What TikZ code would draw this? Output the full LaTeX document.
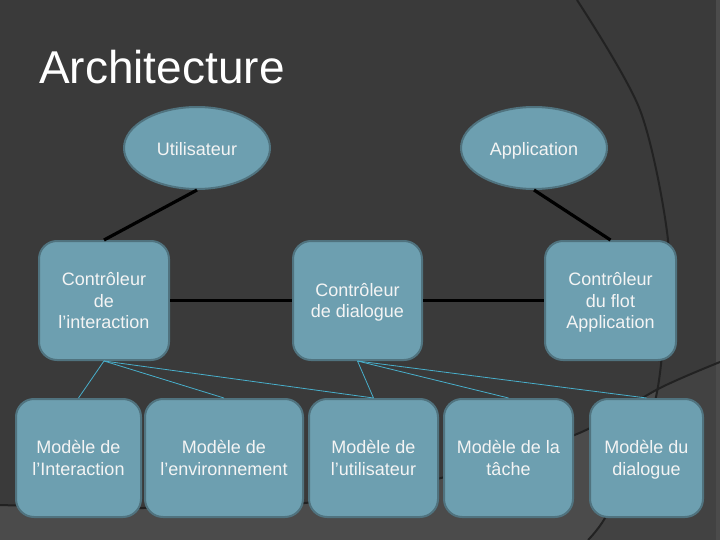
\documentclass[tikz,border=0pt]{standalone}
\usepackage{fontspec}
\setmainfont{Liberation Sans}
\usepackage{xcolor}
\usetikzlibrary{shapes.geometric}
\definecolor{bgdark}{HTML}{3A3A3A}
\definecolor{bglight}{HTML}{4B4B4B}
\definecolor{bgmid}{HTML}{424242}
\definecolor{bgline}{HTML}{222222}
\definecolor{boxfill}{HTML}{6D9FB0}
\definecolor{boxline}{HTML}{50737F}
\definecolor{linkteal}{HTML}{48AFCB}
\definecolor{labeltext}{HTML}{F4F4F4}

\begin{document}
\begin{tikzpicture}[x=1pt, y=-1pt,
  box/.style={draw=boxline, line width=2pt, fill=boxfill, rounded corners=18pt, align=center, text=labeltext, font=\fontsize{18}{21.5}\selectfont, inner sep=2pt, text depth=0pt},
  ctrl/.style={box, minimum height=119pt},
  model/.style={box, minimum height=118pt},
  actor/.style={ellipse, draw=boxline, line width=2pt, fill=boxfill, text=labeltext, font=\fontsize{18}{21.5}\selectfont, minimum width=146pt, minimum height=82pt, text height=19pt, text depth=4pt},
  title/.style={text=white, font=\fontsize{46}{52}\selectfont, inner sep=0pt},
  link/.style={line width=3.2pt, black},
  sublink/.style={line width=0.8pt, linkteal}
]
\fill[bgdark] (0,0) rectangle (720,540);
\useasboundingbox (0,0) rectangle (720,540);
\begin{scope}
\clip plot[smooth] coordinates {(0,505) (143,508) (305,503) (441,478) (577,434) (660,388) (720,362)} -- (720,540) -- (0,540) -- cycle;
\fill[bglight] (0,0) rectangle (720,540);
\fill[bgmid] plot[smooth] coordinates {(577,0) (640,110) (668,240) (664,330) (657,392) (640,450) (605,518) (588,540)} -- (720,540) -- (720,0) -- cycle;
\end{scope}
\fill[bglight] (716,0) rectangle (720,540);
\draw[bgline, line width=2pt] plot[smooth] coordinates {(577,0) (640,110) (668,240) (664,330) (657,392) (640,450) (605,518) (588,540)};
\draw[bgline, line width=2pt] plot[smooth] coordinates {(0,505) (143,508) (305,503) (441,478) (577,434) (660,388) (720,362)};

\node[title, anchor=base west] (head) at (39,84) {Architecture};

\node[actor] (user) at (197,148) {Utilisateur};
\node[actor] (app) at (534,148) {Application};

\node[ctrl, minimum width=130pt] (ctrlinter) at (104,300.5) {Contrôleur\\de\\l’interaction};
\node[ctrl, minimum width=129pt] (ctrldial) at (357.5,300.5) {Contrôleur\\de dialogue};
\node[ctrl, minimum width=131pt] (ctrlflow) at (610.5,300.5) {Contrôleur\\du flot\\Application};

\node[model, minimum width=125pt] (minter) at (78.5,458) {Modèle de\\l’Interaction};
\node[model, minimum width=158pt] (menv) at (224,458) {Modèle de\\l’environnement};
\node[model, minimum width=129pt] (muser) at (373.5,458) {Modèle de\\l’utilisateur};
\node[model, minimum width=129pt] (mtask) at (508.5,458) {Modèle de la\\tâche};
\node[model, minimum width=113pt] (mdial) at (646.5,458) {Modèle du\\dialogue};

\draw[link] (user.south) -- (ctrlinter.north);
\draw[link] (app.south) -- (ctrlflow.north);
\draw[link] (ctrlinter) -- (ctrldial);
\draw[link] (ctrldial) -- (ctrlflow);

\draw[sublink] (ctrlinter.south) -- (minter.north);
\draw[sublink] (ctrlinter.south) -- (menv.north);
\draw[sublink] (ctrlinter.south) -- (muser.north);
\draw[sublink] (ctrldial.south) -- (muser.north);
\draw[sublink] (ctrldial.south) -- (mtask.north);
\draw[sublink] (ctrldial.south) -- (mdial.north);
\end{tikzpicture}
\end{document}
